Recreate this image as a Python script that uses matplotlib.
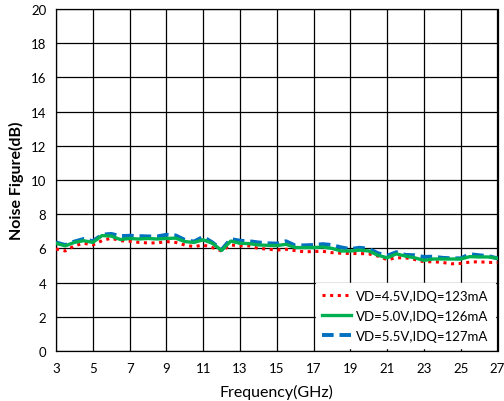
import numpy as np
import matplotlib
matplotlib.use("Agg")
import matplotlib.pyplot as plt

plt.rcParams['font.family'] = ['Lato', 'DejaVu Sans']

freq_ghz = [3, 3.5, 4, 4.5, 5, 5.5, 6, 6.5, 7, 7.5, 8, 8.5, 9, 9.5, 10, 10.5,
            11, 11.5, 12, 12.5, 13, 13.5, 14, 14.5, 15, 15.5, 16, 16.5, 17,
            17.5, 18, 18.5, 19, 19.5, 20, 20.5, 21, 21.5, 22, 22.5, 23, 23.5,
            24, 24.5, 25, 25.5, 26, 26.5, 27]

nf_45v = [5.96, 5.85, 6.15, 6.30, 6.20, 6.45, 6.60, 6.45, 6.42, 6.35, 6.32,
          6.32, 6.40, 6.35, 6.20, 6.10, 6.20, 6.05, 5.85, 6.20, 6.15, 6.15,
          6.00, 5.96, 5.90, 5.95, 5.87, 5.80, 5.82, 5.83, 5.75, 5.72, 5.70,
          5.70, 5.68, 5.55, 5.34, 5.45, 5.45, 5.35, 5.22, 5.22, 5.18, 5.10,
          5.12, 5.20, 5.22, 5.18, 5.18]

nf_50v = [6.30, 6.15, 6.35, 6.45, 6.35, 6.75, 6.72, 6.52, 6.58, 6.55, 6.58,
          6.55, 6.58, 6.60, 6.40, 6.35, 6.50, 6.30, 5.88, 6.43, 6.30, 6.28,
          6.20, 6.18, 6.16, 6.24, 6.05, 6.05, 6.05, 6.08, 6.00, 5.85, 5.85,
          5.90, 5.85, 5.60, 5.45, 5.68, 5.55, 5.45, 5.30, 5.38, 5.38, 5.38,
          5.38, 5.52, 5.50, 5.50, 5.42]

nf_55v = [6.35, 6.20, 6.40, 6.55, 6.42, 6.80, 6.85, 6.72, 6.74, 6.72, 6.70,
          6.70, 6.80, 6.76, 6.50, 6.40, 6.68, 6.35, 5.92, 6.55, 6.45, 6.42,
          6.35, 6.30, 6.28, 6.42, 6.17, 6.18, 6.20, 6.25, 6.20, 6.06, 5.96,
          6.04, 5.98, 5.72, 5.57, 5.78, 5.62, 5.60, 5.50, 5.52, 5.45, 5.42,
          5.42, 5.66, 5.60, 5.55, 5.42]

labels = ["VD=4.5V,IDQ=123mA", "VD=5.0V,IDQ=126mA", "VD=5.5V,IDQ=127mA"]
x_ticks = list(range(3, 28, 2))
y_ticks = list(range(0, 21, 2))

fig = plt.figure(figsize=(5.04, 4.02), dpi=100)
ax = fig.add_axes([56 / 504, 50 / 402, 441.5 / 504, 342 / 402])

ax.plot(freq_ghz, nf_45v, color='#FF0000', lw=2.2, linestyle=(0, (1, 1.5)),
        label=labels[0], zorder=3)
ax.plot(freq_ghz, nf_50v, color='#00B050', lw=2.4, label=labels[1], zorder=4)
ax.plot(freq_ghz, nf_55v, color='#0070C0', lw=2.8, linestyle=(0, (3, 1.5)),
        label=labels[2], zorder=3.5)

ax.set_xlim(3, 27)
ax.set_ylim(0, 20)
ax.set_xticks(x_ticks)
ax.set_yticks(y_ticks)
ax.tick_params(axis='both', labelsize=9.5, length=0)
ax.tick_params(axis='x', pad=8)
ax.tick_params(axis='y', pad=7)
ax.grid(True, color='black', lw=0.9)
ax.set_axisbelow(True)
for s in ax.spines.values():
    s.set_color('black')
    s.set_linewidth(0.9)

ax.set_xlabel("Frequency(GHz)", fontsize=11.5, labelpad=7)
ax.set_ylabel("Noise Figure(dB)", fontsize=11.5, fontweight='bold', labelpad=5)

leg = ax.legend(loc='lower right', bbox_to_anchor=(1.0, 0.0), fontsize=9.5,
                frameon=True, fancybox=False, handlelength=2.2,
                handletextpad=0.35, labelspacing=0.6, borderpad=0.5,
                borderaxespad=0.2)
leg.get_frame().set_edgecolor('white')
leg.get_frame().set_facecolor('white')
leg.get_frame().set_alpha(1.0)

fig.savefig("out.png", dpi=100)
